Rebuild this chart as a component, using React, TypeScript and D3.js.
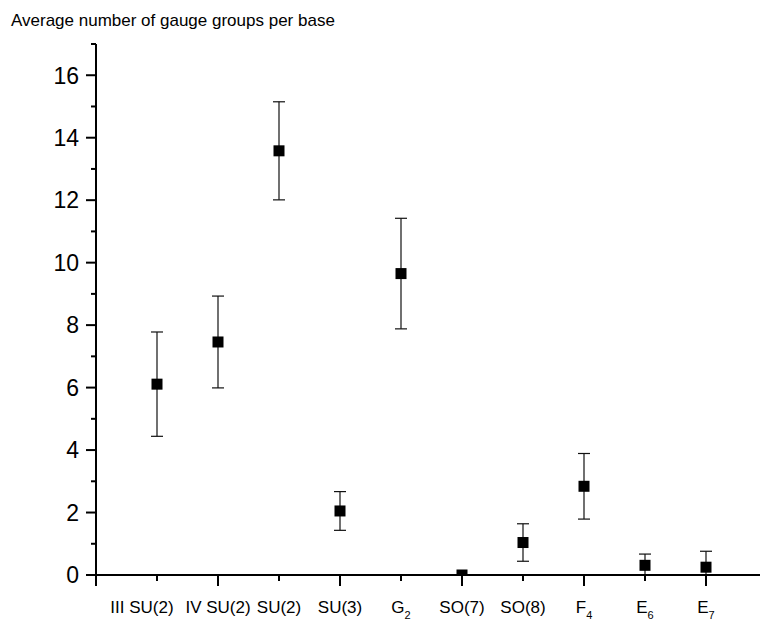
import { useEffect, useRef } from 'react';
import * as d3 from 'd3';

// category labels (base text + optional subscript)
const labelBase = ['III SU(2)', 'IV SU(2)', 'SU(2)', 'SU(3)', 'G', 'SO(7)', 'SO(8)', 'F', 'E', 'E'];
const labelSub = ['', '', '', '', '2', '', '', '4', '6', '7'];
// average number of gauge groups per base, with symmetric error
const means = [6.11, 7.46, 13.58, 2.05, 9.65, 0, 1.04, 2.84, 0.31, 0.25];
const errors = [1.67, 1.47, 1.57, 0.62, 1.77, 0, 0.6, 1.05, 0.36, 0.51];
const yTicks = [0, 2, 4, 6, 8, 10, 12, 14, 16];

const W = 760;
const H = 620;
const FONT = '"Liberation Sans", Arial, sans-serif';

export default function App() {
  const svgRef = useRef<SVGSVGElement>(null);

  useEffect(() => {
    if (!svgRef.current) return;
    const svg = d3.select(svgRef.current);
    svg.selectAll('*').remove();

    const x = d3.scaleLinear().domain([0, 11]).range([96, 767]);
    const y = d3.scaleLinear().domain([0, 17]).range([575, 44]);

    // clip marks to the plot area
    svg.append('clipPath').attr('id', 'plot-clip')
      .append('rect')
      .attr('x', x(0)).attr('y', y(17))
      .attr('width', x(11) - x(0)).attr('height', y(0) - y(17));

    const marks = svg.append('g').attr('clip-path', 'url(#plot-clip)');

    const pts = means.map((m, i) => ({ i: i + 1, m, e: errors[i] }));

    // error bars
    const eb = marks.selectAll('.eb').data(pts.filter(d => d.e > 0)).enter()
      .append('g').attr('class', 'eb')
      .attr('stroke', '#111').attr('stroke-width', 1.2);
    eb.append('line')
      .attr('x1', d => x(d.i)).attr('x2', d => x(d.i))
      .attr('y1', d => y(d.m + d.e)).attr('y2', d => y(d.m - d.e));
    eb.append('line')
      .attr('x1', d => x(d.i) - 6).attr('x2', d => x(d.i) + 6)
      .attr('y1', d => y(d.m + d.e)).attr('y2', d => y(d.m + d.e));
    eb.append('line')
      .attr('x1', d => x(d.i) - 6).attr('x2', d => x(d.i) + 6)
      .attr('y1', d => y(d.m - d.e)).attr('y2', d => y(d.m - d.e));

    // square markers
    const s = 11;
    marks.selectAll('.pt').data(pts).enter()
      .append('rect').attr('class', 'pt')
      .attr('x', d => x(d.i) - s / 2).attr('y', d => y(d.m) - s / 2)
      .attr('width', s).attr('height', s)
      .attr('fill', '#000');

    // y axis
    const yAxis = svg.append('g').attr('stroke', '#000').attr('stroke-width', 2);
    yAxis.append('line')
      .attr('x1', x(0)).attr('x2', x(0))
      .attr('y1', y(17)).attr('y2', y(0) + 1);
    yAxis.selectAll('.yt').data(d3.range(0, 18)).enter()
      .append('line')
      .attr('x1', x(0)).attr('x2', d => x(0) - (d % 2 === 0 ? 10 : 5))
      .attr('y1', d => y(d)).attr('y2', d => y(d));

    svg.append('g').selectAll('text').data(yTicks).enter()
      .append('text')
      .attr('x', 79).attr('y', d => y(d)).attr('dy', '0.36em')
      .attr('text-anchor', 'end')
      .style('font-family', FONT).style('font-size', '23px')
      .text(d => d);

    // x axis
    const xAxis = svg.append('g').attr('stroke', '#000').attr('stroke-width', 2);
    xAxis.append('line')
      .attr('x1', x(0) - 1).attr('x2', x(11))
      .attr('y1', y(0)).attr('y2', y(0));
    xAxis.selectAll('.xt').data(d3.range(0, 11)).enter()
      .append('line')
      .attr('x1', d => x(d)).attr('x2', d => x(d))
      .attr('y1', y(0)).attr('y2', d => y(0) + (d % 2 === 0 ? 11 : 6));

    const xl = svg.append('g').selectAll('text').data(labelBase).enter()
      .append('text')
      .attr('x', (_d, i) => x(i + 1) + (i === 0 ? -15 : 0))
      .attr('y', 613)
      .attr('text-anchor', 'middle')
      .style('font-family', FONT).style('font-size', '17px');
    xl.append('tspan').text(d => d);
    xl.append('tspan')
      .attr('dy', 6)
      .style('font-size', '11px')
      .text((_d, i) => labelSub[i]);

    // axis title
    svg.append('text')
      .attr('x', 11).attr('y', 26)
      .style('font-family', FONT).style('font-size', '17px')
      .text('Average number of gauge groups per base');
  }, []);

  return (
    <svg
      ref={svgRef}
      width={W}
      height={H}
      style={{ position: 'absolute', left: 0, top: 0, background: '#fff' }}
    />
  );
}
